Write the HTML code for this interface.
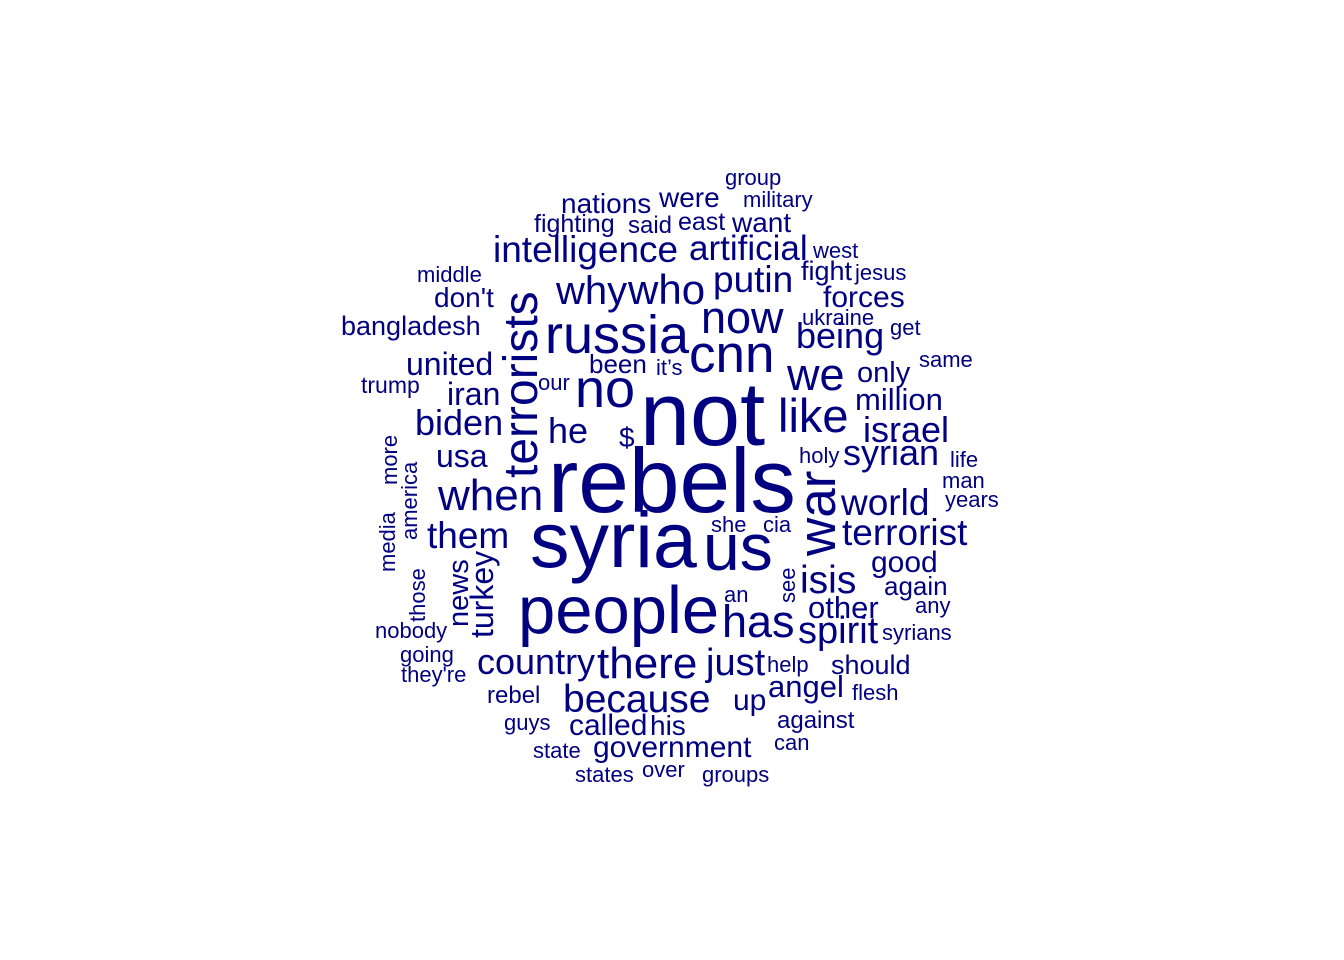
<!DOCTYPE html>
<html><head><meta charset="utf-8"><style>
html,body{margin:0;padding:0;background:#fff;width:1344px;height:960px;overflow:hidden}
svg text{font-family:"Liberation Sans",Arial,sans-serif;fill:#000080}
</style></head><body>
<svg id="cloud" width="1344" height="960" viewBox="0 0 1344 960" xmlns="http://www.w3.org/2000/svg"></svg>
<script>
const words = ["not","rebels","syria","people","us","russia","cnn","no","terrorists","war","like","we","now","has","when","why","who","putin","there","he","them","isis","spirit","just","because","country","intelligence","artificial","being","world","terrorist","israel","syrian","biden","angel","government","united","iran","usa","million","only","forces","good","other","should","called","his","up","nations","were","don't","bangladesh","been","fight","want","news","turkey","$","fighting","said","east","again","against","group","military","middle","west","jesus","ukraine","get","same","trump","our","it’s","holy","life","man","years","she","cia","see","an","any","syrians","help","flesh","can","groups","over","states","state","guys","rebel","going","they're","nobody","those","media","america","more"];
const sizes = [90,91,79,67,66,54,53,54,48,53,47,45,45,45,44,40,42,37,44,36,37,39,38,38,39,36,37,35,36,37,37,36,36,36,31,30,32,32,32,31,29,30,30,31,27,30,28,30,28,28,28,27,26,27,28,29,32,28,25,24,25,26,24,22,22,22,22,22,22,22,22,23,22,22,22,22,22,22,22,22,22,22,22,22,22,22,22,22,22,22,22,22,24,22,22,22,22,22,22,22];
const xs = [640,548,530,518,703,545,689,575,537,835,778,787,701,722,438,556,628,713,597,548,427,800,798,706,563,477,493,689,796,841,842,863,843,415,768,593,406,447,436,855,857,823,871,808,831,569,650,733,561,659,434,341,589,801,732,468,493,619,534,628,678,884,777,725,743,417,813,855,802,890,919,361,538,656,799,950,942,945,711,763,795,724,915,882,767,852,774,702,642,575,533,504,487,400,401,375,425,395,417,397];
const ys = [445,512,567,633,570,353,372,407,478,556,432,390,333,637,510,304,304,292,678,443,548,593,643,675,712,674,262,260,348,515,545,442,465,435,697,757,375,405,467,410,382,307,572,618,674,735,735,710,213,207,307,335,373,280,232,627,638,447,232,233,230,595,728,185,207,282,258,280,325,335,367,393,390,375,463,467,488,507,532,532,603,602,613,640,672,700,750,782,777,782,758,730,703,662,682,638,622,572,540,485];
const rots = [0,0,0,0,0,0,0,0,-90,-90,0,0,0,0,0,0,0,0,0,0,0,0,0,0,0,0,0,0,0,0,0,0,0,0,0,0,0,0,0,0,0,0,0,0,0,0,0,0,0,0,0,0,0,0,0,-90,-90,0,0,0,0,0,0,0,0,0,0,0,0,0,0,0,0,0,0,0,0,0,0,0,-90,0,0,0,0,0,0,0,0,0,0,0,0,0,0,0,-90,-90,-90,-90];
const svg = document.getElementById('cloud');
const NS = 'http://www.w3.org/2000/svg';
for (let i = 0; i < words.length; i++) {
  const t = document.createElementNS(NS, 'text');
  
  
  t.setAttribute('font-size', sizes[i]);
  if (rots[i] !== 0) {
    t.setAttribute('transform', 'translate(' + xs[i] + ',' + ys[i] + ') rotate(' + rots[i] + ')');
  } else {
    t.setAttribute('x', xs[i]);
    t.setAttribute('y', ys[i]);
  }
  t.textContent = words[i];
  svg.appendChild(t);
}
</script>
</body></html>
